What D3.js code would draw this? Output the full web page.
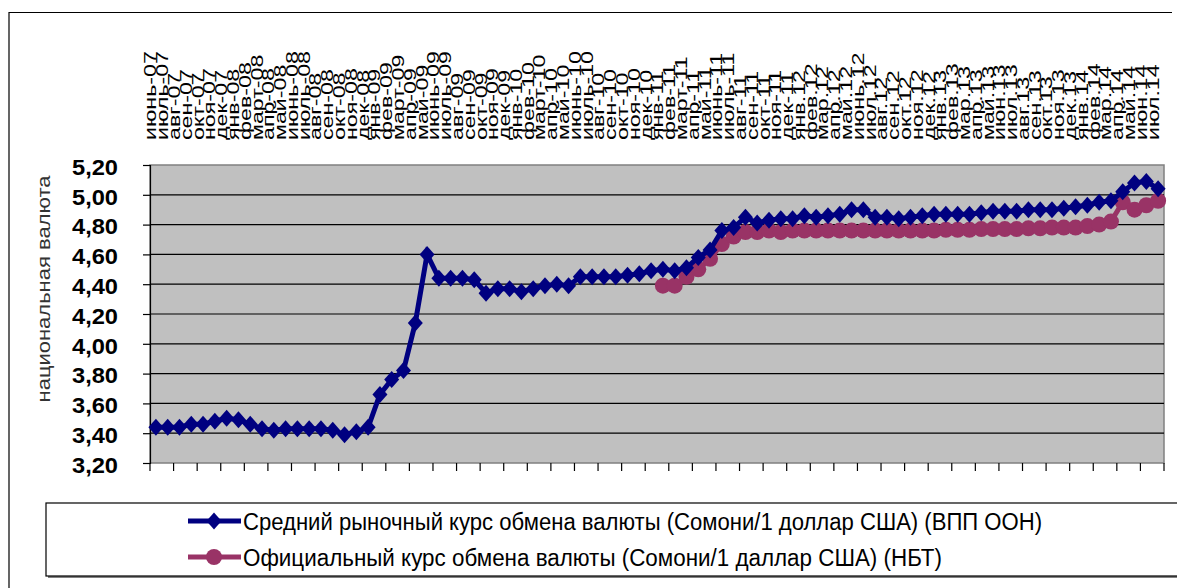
<!DOCTYPE html>
<html>
<head>
<meta charset="utf-8">
<script src="https://cdn.jsdelivr.net/npm/d3@7"></script>
<style>
  body { margin: 0; background: #fff; }
  svg { display: block; font-family: "Liberation Sans", Arial, sans-serif; }
</style>
</head>
<body>
<div id="root"></div>
<script>
// months, June 2007 - July 2014
const months = [
  "июнь-07", "июль-07", "авг-07", "сен-07", "окт-07", "ноя-07", "дек-07",
  "янв-08", "фев-08", "март-08", "апр-08", "май-08", "июнь-08", "июль-08", "авг-08", "сен-08", "окт-08", "ноя-08", "дек-08",
  "янв-09", "фев-09", "март-09", "апр-09", "май-09", "июнь-09", "июль-09", "авг-09", "сен-09", "окт-09", "ноя-09", "дек-09",
  "янв-10", "фев-10", "март-10", "апр-10", "май-10", "июнь-10", "июль-10", "авг-10", "сен-10", "окт-10", "ноя-10", "дек-10",
  "янв-11", "фев-11", "март-11", "апр-11", "май-11", "июнь-11", "июль-11", "авг-11", "сен-11", "окт-11", "ноя-11", "дек-11",
  "янв.12", "фев.12", "мар.12", "апр.12", "май.12", "июнь.12", "июл.12", "авг.12", "сен.12", "окт.12", "ноя.12", "дек.12",
  "янв.13", "фев.13", "мар.13", "апр.13", "май.13", "июн.13", "июл.13", "авг.13", "сен.13", "окт.13", "ноя.13", "дек.13",
  "янв.14", "фев.14", "мар.14", "апр.14", "май.14", "июн.14", "июл.14"
]

// average market rate (WFP)
const marketRate = [
  3.44, 3.44, 3.44, 3.46, 3.46, 3.48, 3.50, 3.49, 3.46, 3.43,
  3.42, 3.43, 3.43, 3.43, 3.43, 3.42, 3.39, 3.41, 3.44, 3.66,
  3.76, 3.82, 4.14, 4.60, 4.44, 4.44, 4.44, 4.43, 4.34, 4.37,
  4.37, 4.35, 4.37, 4.39, 4.40, 4.39, 4.45, 4.45, 4.45, 4.45,
  4.46, 4.47, 4.49, 4.50, 4.49, 4.51, 4.58, 4.63, 4.76, 4.78,
  4.85, 4.81, 4.83, 4.84, 4.84, 4.86, 4.85, 4.86, 4.87, 4.90,
  4.90, 4.85, 4.85, 4.84, 4.85, 4.86, 4.87, 4.87, 4.87, 4.87,
  4.88, 4.89, 4.89, 4.89, 4.90, 4.90, 4.90, 4.91, 4.92, 4.93,
  4.95, 4.96, 5.02, 5.08, 5.09, 5.04
]

// official rate (NBT), starts Jan 2011
const officialRate = [
  null, null, null, null, null, null, null, null, null, null,
  null, null, null, null, null, null, null, null, null, null,
  null, null, null, null, null, null, null, null, null, null,
  null, null, null, null, null, null, null, null, null, null,
  null, null, null, 4.39, 4.39, 4.45, 4.50, 4.57, 4.67, 4.72,
  4.75, 4.75, 4.76, 4.75, 4.76, 4.76, 4.76, 4.76, 4.76, 4.76,
  4.76, 4.76, 4.76, 4.76, 4.76, 4.76, 4.76, 4.765, 4.765, 4.765,
  4.77, 4.77, 4.77, 4.77, 4.775, 4.775, 4.78, 4.78, 4.78, 4.79,
  4.80, 4.82, 4.95, 4.90, 4.93, 4.96
]

const yTicks = [3.2, 3.4, 3.6, 3.8, 4.0, 4.2, 4.4, 4.6, 4.8, 5.0, 5.2]
const seriesNames = [
  "Средний рыночный курс обмена валюты (Сомони/1 доллар США) (ВПП ООН)",
  "Официальный курс обмена валюты (Сомони/1 даллар США) (НБТ)"
]
const yTitle = "национальная валюта"

const w = 1177, h = 588
const plotL = 150, plotR = 1164, plotT = 165, plotB = 463
const blue = "#000080", pink = "#993366"

const ru = d3.formatLocale({decimal: ",", thousands: " ", grouping: [3], currency: ["", ""]})
const fmt = ru.format(".2f")

const x = d3.scaleBand()
    .domain(d3.range(months.length))
    .range([plotL, plotR])

const y = d3.scaleLinear()
    .domain([3.2, 5.2])
    .range([plotB, plotT])

const cx = i => x(i) + x.bandwidth() / 2

const svg = d3.select("#root").append("svg")
    .attr("width", w)
    .attr("height", h)

// outer chart frame (top + left visible)
svg.append("path")
    .attr("d", "M9,588 V12.5 H1172")
    .attr("fill", "none")
    .attr("stroke", "#000")
    .attr("stroke-width", 1.2)

// plot background
svg.append("rect")
    .attr("x", plotL).attr("y", plotT)
    .attr("width", plotR - plotL).attr("height", plotB - plotT)
    .attr("fill", "#c0c0c0")
    .attr("stroke", "#808080")
    .attr("stroke-width", 1.5)

// gridlines
svg.append("g").selectAll("line")
    .data(yTicks.slice(1, -1))
    .join("line")
    .attr("x1", plotL).attr("x2", plotR)
    .attr("y1", d => y(d)).attr("y2", d => y(d))
    .attr("stroke", "#000")
    .attr("stroke-width", 1.2)

// y axis
const yAxis = svg.append("g")
    .attr("transform", `translate(${plotL},0)`)
    .call(d3.axisLeft(y).tickValues(yTicks).tickFormat(fmt).tickSize(7).tickPadding(25))
yAxis.select(".domain").attr("stroke", "#000").attr("stroke-width", 1.2)
yAxis.selectAll(".tick line").attr("stroke", "#000").attr("stroke-width", 1.2)
yAxis.selectAll(".tick text")
    .attr("font-size", 22)
    .attr("font-weight", "bold")
    .attr("fill", "#000")
    .attr("dy", "0.42em")
    .attr("font-family", "'Liberation Sans', Arial, sans-serif")
    .attr("textLength", 46)
    .attr("lengthAdjust", "spacingAndGlyphs")

// bottom tick marks, every second month
svg.append("g").selectAll("line")
    .data(d3.range(0, months.length + 1, 2))
    .join("line")
    .attr("x1", i => i < months.length ? x(i) : plotR)
    .attr("x2", i => i < months.length ? x(i) : plotR)
    .attr("y1", plotB).attr("y2", plotB + 8)
    .attr("stroke", "#000")
    .attr("stroke-width", 1.2)

// month labels on top, rotated
const labels = svg.append("g").selectAll("text")
    .data(months)
    .join("text")
    .attr("transform", (d, i) => `translate(${cx(i) + 0.5},140) rotate(-90)`)
    .attr("font-size", 16)
    .attr("fill", "#000")
    .text(d => d)
labels.each(function () {
    const len = this.getComputedTextLength()
    d3.select(this).attr("textLength", len * 1.45).attr("lengthAdjust", "spacingAndGlyphs")
})

// y title
svg.append("text")
    .attr("transform", "translate(50,289) rotate(-90)")
    .attr("text-anchor", "middle")
    .attr("font-size", 18)
    .attr("fill", "#333")
    .attr("textLength", 227)
    .attr("lengthAdjust", "spacingAndGlyphs")
    .text(yTitle)

const diamond = "M0,-8.5L7.5,0L0,8.5L-7.5,0Z"

const line = d3.line()
    .defined(d => d != null)
    .x((d, i) => cx(i))
    .y(d => y(d))

// official (pink) series
svg.append("path")
    .datum(officialRate)
    .attr("d", line)
    .attr("fill", "none")
    .attr("stroke", pink)
    .attr("stroke-width", 5)
svg.append("g").selectAll("circle")
    .data(officialRate.map((v, i) => ({v, i})).filter(d => d.v != null))
    .join("circle")
    .attr("cx", d => cx(d.i))
    .attr("cy", d => y(d.v))
    .attr("r", 8)
    .attr("fill", pink)

// market (blue) series drawn on top
svg.append("path")
    .datum(marketRate)
    .attr("d", line)
    .attr("fill", "none")
    .attr("stroke", blue)
    .attr("stroke-width", 5)
svg.append("g").selectAll("path")
    .data(marketRate)
    .join("path")
    .attr("d", diamond)
    .attr("transform", (d, i) => `translate(${cx(i)},${y(d)})`)
    .attr("fill", blue)

// legend
const lg = svg.append("g")
lg.append("rect")
    .attr("x", 48).attr("y", 505)
    .attr("width", 1140).attr("height", 73)
    .attr("fill", "#808080")
lg.append("rect")
    .attr("x", 46).attr("y", 503)
    .attr("width", 1140).attr("height", 73)
    .attr("fill", "#fff")
    .attr("stroke", "#000")
    .attr("stroke-width", 1.2)

const legendItems = [
    {name: seriesNames[0], color: blue, mark: "diamond", yy: 521, len: 799},
    {name: seriesNames[1], color: pink, mark: "circle", yy: 557, len: 699}
]
legendItems.forEach(d => {
    lg.append("line")
        .attr("x1", 188).attr("x2", 241)
        .attr("y1", d.yy).attr("y2", d.yy)
        .attr("stroke", d.color)
        .attr("stroke-width", 5)
    if (d.mark === "diamond") {
        lg.append("path")
            .attr("d", diamond)
            .attr("transform", `translate(214,${d.yy})`)
            .attr("fill", d.color)
    } else {
        lg.append("circle")
            .attr("cx", 214).attr("cy", d.yy).attr("r", 8)
            .attr("fill", d.color)
    }
    lg.append("text")
        .attr("x", 243)
        .attr("y", d.yy + 8.5)
        .attr("font-size", 23)
        .attr("fill", "#000")
        .attr("textLength", d.len)
        .attr("lengthAdjust", "spacingAndGlyphs")
        .text(d.name)
})
</script>
</body>
</html>
